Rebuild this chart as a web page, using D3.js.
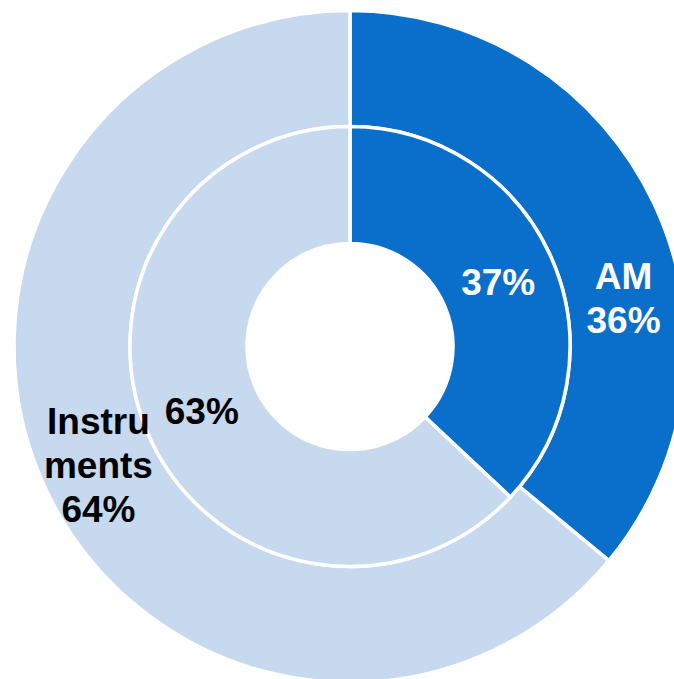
<!DOCTYPE html>
<html>
<head>
<meta charset="utf-8">
<script src="https://cdn.jsdelivr.net/npm/d3@7"></script>
<style>
  html, body { margin: 0; padding: 0; background: #ffffff; }
  svg { display: block; }
</style>
</head>
<body>
<svg id="chart" width="674" height="679"></svg>
<script>
// Data
const categories = ["AM", "Instruments"];
const innerValues = [37, 63];   // inner ring (%)
const outerValues = [36, 64];   // outer ring (%)
const innerLabels = [["37%"], ["63%"]];
const outerLabels = [["AM", "36%"], ["Instru", "ments", "64%"]];

const colors = ["#0A6FCA", "#C7D9EF"];
const labelColors = ["#ffffff", "#000000"];

const W = 674, H = 679;
const cx = 350, cy = 346.5;
const rHole = 103, rMid = 220, rOuter = 336;

const svg = d3.select("#chart");
const g = svg.append("g").attr("transform", `translate(${cx},${cy})`);

const pie = d3.pie().sort(null).value(d => d);

const innerArc = d3.arc().innerRadius(rHole).outerRadius(rMid);
const outerArc = d3.arc().innerRadius(rMid).outerRadius(rOuter);

const innerData = pie(innerValues);
const outerData = pie(outerValues);

function drawRing(data, arc, cls) {
  g.selectAll("path." + cls)
    .data(data)
    .enter().append("path")
    .attr("class", cls)
    .attr("d", arc)
    .attr("fill", (d, i) => colors[i])
    .attr("stroke", "#ffffff")
    .attr("stroke-width", 3.5)
    .attr("stroke-linejoin", "miter");
}
drawRing(outerData, outerArc, "outer");
drawRing(innerData, innerArc, "inner");

const fontSize = 37;
const lineH = 44;

function drawLabel(lines, x, y, color) {
  const t = g.append("text")
    .attr("text-anchor", "middle")
    .attr("font-family", "'Liberation Sans', Arial, sans-serif")
    .attr("font-weight", "bold")
    .attr("font-size", fontSize)
    .attr("fill", color);
  const n = lines.length;
  lines.forEach((s, k) => {
    t.append("tspan")
      .attr("x", x)
      .attr("y", y + (k - (n - 1) / 2) * lineH + fontSize * 0.35)
      .text(s);
  });
}

// inner labels at arc centroids
innerData.forEach((d, i) => {
  const [x, y] = innerArc.centroid(d);
  drawLabel(innerLabels[i], x, y, labelColors[i]);
});

// outer labels: centroid, AM label nudged to stay inside the visible area
const outerOffsets = [[22, 70], [0, 0]];
outerData.forEach((d, i) => {
  const [x, y] = outerArc.centroid(d);
  drawLabel(outerLabels[i], x + outerOffsets[i][0], y + outerOffsets[i][1], labelColors[i]);
});
</script>
</body>
</html>
